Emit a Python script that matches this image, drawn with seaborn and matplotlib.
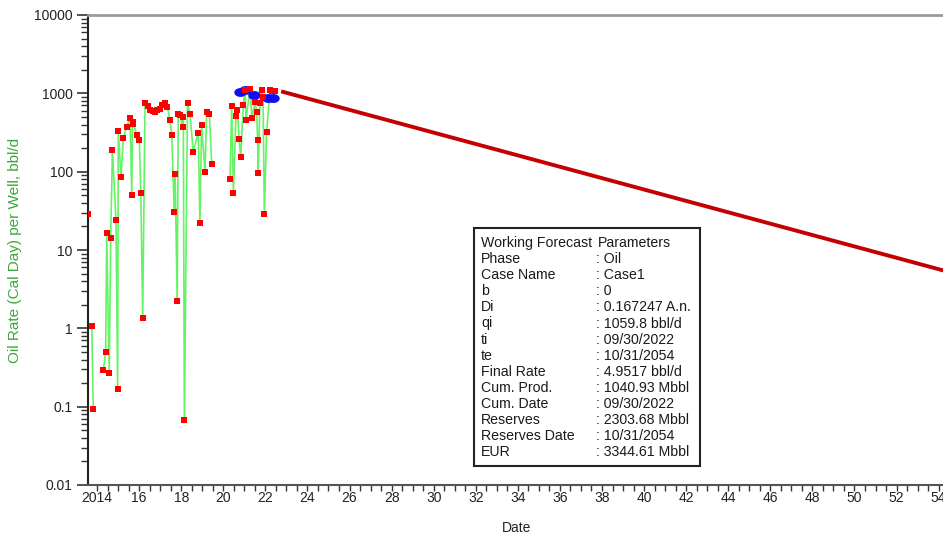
import numpy as np
import pandas as pd
import matplotlib
matplotlib.use("Agg")
import matplotlib.pyplot as plt
from matplotlib.path import Path
from matplotlib.patches import Rectangle
from matplotlib.ticker import FixedLocator, MultipleLocator, NullFormatter
import seaborn as sns

# ---------------------------------------------------------------------------
# Production history: oil rate per well (bbl/d) by decimal year.
# Each segment is a run of consecutive reported months; gaps split segments.
# ---------------------------------------------------------------------------
hist_year = [
    2013.59,
    2013.75, 2013.82,
    2014.30, 2014.41, 2014.46, 2014.58, 2014.65, 2014.73, 2014.90, 2014.98,
    2015.01, 2015.14, 2015.25, 2015.41, 2015.57, 2015.65, 2015.69, 2015.73,
    2015.89, 2016.01, 2016.08, 2016.17, 2016.28, 2016.40, 2016.52, 2016.64,
    2016.76, 2016.87, 2016.99, 2017.11, 2017.23, 2017.34, 2017.47, 2017.55,
    2017.67, 2017.71, 2017.81, 2017.86, 2017.94, 2018.07, 2018.10, 2018.15,
    2018.30, 2018.42, 2018.57, 2018.81, 2018.89, 2018.97, 2019.13, 2019.21,
    2019.34, 2019.45,
    2020.32, 2020.40, 2020.48, 2020.60, 2020.67, 2020.75, 2020.83, 2020.95,
    2021.03, 2021.08, 2021.27, 2021.36, 2021.51, 2021.59, 2021.63, 2021.66,
    2021.74, 2021.82, 2021.89, 2021.95, 2022.06, 2022.22, 2022.31, 2022.48,
]
hist_rate = [
    28.6,
    1.06, 0.093,
    0.29, 0.50, 16.7, 0.27, 14.4, 188, 23.9, 0.167,
    331, 85, 272, 374, 490, 50, 433, 410,
    292, 253, 53.5, 1.35, 743, 680, 608, 590,
    580, 610, 640, 700, 743, 671, 453, 292,
    30.6, 94.6, 2.23, 541, 530, 374, 503, 0.068,
    743, 537, 178, 316, 22, 400, 100, 570,
    537, 127,
    81, 690, 54, 510, 620, 260, 152, 705,
    1100, 463, 1130, 480, 770, 575, 257, 97,
    760, 1110, 900, 28.6, 323, 1110, 1060, 1080,
]
hist_segment = (
    [0]
    + [1] * 2
    + [2] * 50
    + [3] * 24
)

# Recent well-test rates
test_year = [2020.80, 2021.05, 2021.45, 2022.14, 2022.36]
test_rate = [1050, 1100, 950, 870, 860]

# Exponential decline forecast (b = 0): start at qi on ti, end at final rate on te
fc_year = [2022.75, 2054.83]
fc_rate = [1059.8, 4.9517]

# Forecast parameter table
param_names = ["Working Forecast", "Phase", "Case Name", "b", "Di", "qi", "ti", "te",
               "Final Rate", "Cum. Prod.", "Cum. Date", "Reserves", "Reserves Date", "EUR"]
param_values = ["Parameters", ": Oil", ": Case1", ": 0", ": 0.167247 A.n.", ": 1059.8 bbl/d",
                ": 09/30/2022", ": 10/31/2054", ": 4.9517 bbl/d", ": 1040.93 Mbbl",
                ": 09/30/2022", ": 2303.68 Mbbl", ": 10/31/2054", ": 3344.61 Mbbl"]

# Axis tick labels
y_ticks = [0.01, 0.1, 1, 10, 100, 1000, 10000]
y_tick_labels = ["0.01", "0.1", "1", "10", "100", "1000", "10000"]
x_ticks = list(range(2014, 2055, 2))
x_tick_labels = ["2014"] + [str(y % 100) for y in x_ticks[1:]]

# ---------------------------------------------------------------------------
sns.set_style("white")
plt.rcParams["font.family"] = ["Liberation Sans", "DejaVu Sans"]

W, H = 943, 540
fig = plt.figure(figsize=(W / 100, H / 100), dpi=100)
x_min, x_max = 2013.57, 2054.35
ax_left, ax_bottom = 88 / W, 55 / H
ax_w, ax_h = 858 / W, 470 / H
ax = fig.add_axes([ax_left, ax_bottom, ax_w, ax_h])

hist = pd.DataFrame({"year": hist_year, "rate": hist_rate, "segment": hist_segment})
tests = pd.DataFrame({"year": test_year, "rate": test_rate})
forecast = pd.DataFrame({"year": fc_year, "rate": fc_rate})

ax.set_yscale("log")

# history connecting line
sns.lineplot(data=hist, x="year", y="rate", units="segment", estimator=None,
             color="#66f266", linewidth=1.2, ax=ax, legend=False, zorder=2)

# forecast line
sns.lineplot(data=forecast, x="year", y="rate", color="#c40000", linewidth=2.8,
             ax=ax, legend=False, zorder=3, solid_capstyle="butt")

# test points as wide ellipses
theta = np.linspace(0, 2 * np.pi, 40)
ellipse = Path(np.column_stack([1.4 * np.cos(theta), np.sin(theta)]), closed=True)
sns.scatterplot(data=tests, x="year", y="rate", marker=ellipse, s=80,
                color="#1010ee", linewidth=0, ax=ax, legend=False, zorder=4)

# history points
sns.scatterplot(data=hist, x="year", y="rate", marker="s", s=24,
                color="#ff0000", linewidth=0, ax=ax, legend=False, zorder=5)

ax.set_xlim(x_min, x_max)
ax.set_ylim(0.01, 10000)

ax.yaxis.set_major_locator(FixedLocator(y_ticks))
ax.set_yticklabels(y_tick_labels)
ax.yaxis.set_minor_locator(FixedLocator(
    [m * 10.0 ** e for e in range(-2, 4) for m in range(2, 10)]))
ax.yaxis.set_minor_formatter(NullFormatter())

ax.xaxis.set_major_locator(FixedLocator(x_ticks))
ax.set_xticklabels(x_tick_labels)
ax.xaxis.set_minor_locator(MultipleLocator(0.5))

ax.tick_params(axis="both", which="both", direction="out", colors="#333333",
               labelsize=10, labelcolor="#222222")
ax.tick_params(axis="y", which="major", length=8, width=1.2, pad=3)
ax.tick_params(axis="y", which="minor", length=5, width=1.0)
ax.tick_params(axis="x", which="both", length=4, width=1.0, pad=0.5)
ax.tick_params(bottom=True, left=True, which="both")

for side in ["left", "bottom", "top", "right"]:
    ax.spines[side].set_visible(True)
ax.spines["left"].set_color("#222222")
ax.spines["left"].set_linewidth(1.5)
ax.spines["bottom"].set_color("#555555")
ax.spines["bottom"].set_linewidth(1.5)
ax.spines["top"].set_color("#9a9a9a")
ax.spines["top"].set_linewidth(2.0)
ax.spines["right"].set_visible(False)

ax.set_xlabel("Date", fontsize=10, color="#222222")
ax.xaxis.set_label_coords(0.5, -(521 - 485) / 470)
ax.set_ylabel("Oil Rate (Cal Day) per Well, bbl/d", fontsize=11, color="#3aa83a")
ax.yaxis.set_label_coords((22 - 88) / 858, 0.5)

# parameter table box
box_x0, box_y0, box_x1, box_y1 = 474, 228, 700, 466
fig.patches.append(Rectangle((box_x0 / W, 1 - box_y1 / H), (box_x1 - box_x0) / W,
                             (box_y1 - box_y0) / H, transform=fig.transFigure,
                             facecolor="white", edgecolor="#222222", linewidth=1.5,
                             zorder=10))
for i, (name, val) in enumerate(zip(param_names, param_values)):
    yc = 1 - (243 + i * 16.1) / H
    fig.text(481 / W, yc, name, fontsize=10.2, color="#1a1a1a", va="center",
             ha="left", zorder=11)
    fig.text((596 if i else 598) / W, yc, val, fontsize=10.2, color="#1a1a1a",
             va="center", ha="left", zorder=11)

fig.savefig("out.png", dpi=100)
